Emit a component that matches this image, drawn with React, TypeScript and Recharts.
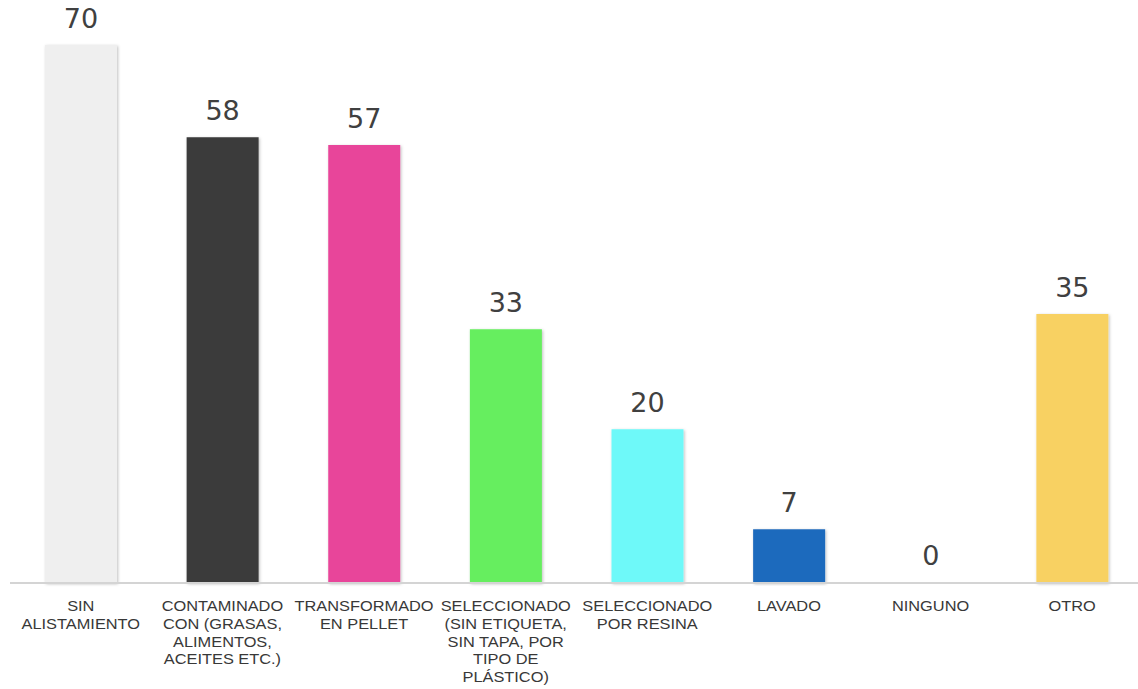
import React from "react";
import { BarChart, Bar, XAxis, YAxis, Cell, LabelList } from "recharts";

const categories = [
  "SIN ALISTAMIENTO",
  "CONTAMINADO CON (GRASAS, ALIMENTOS, ACEITES ETC.)",
  "TRANSFORMADO EN PELLET",
  "SELECCIONADO (SIN ETIQUETA, SIN TAPA, POR TIPO DE PLÁSTICO)",
  "SELECCIONADO POR RESINA",
  "LAVADO",
  "NINGUNO",
  "OTRO",
];

const tickLines: string[][] = [
  ["SIN", "ALISTAMIENTO"],
  ["CONTAMINADO", "CON (GRASAS,", "ALIMENTOS,", "ACEITES ETC.)"],
  ["TRANSFORMADO", "EN PELLET"],
  ["SELECCIONADO", "(SIN ETIQUETA,", "SIN TAPA, POR", "TIPO DE", "PLÁSTICO)"],
  ["SELECCIONADO", "POR RESINA"],
  ["LAVADO"],
  ["NINGUNO"],
  ["OTRO"],
];

const values = [70, 58, 57, 33, 20, 7, 0, 35];

const colors = [
  "#efefef",
  "#3a3a3a",
  "#e8449a",
  "#66ee5e",
  "#6ef9f9",
  "#1f6bbd",
  "#f3f3f3",
  "#f8d162",
];

const data = categories.map((c, i) => ({ name: c, value: values[i], idx: i }));

const CustomTick = (props: any) => {
  const { x, y, index } = props;
  const lines = tickLines[index] || [];
  return (
    <text
      x={x}
      y={y}
      textAnchor="middle"
      fill="#383838"
      fontFamily="'Liberation Sans', Arial, sans-serif"
      fontSize={14}
      transform={`translate(${x} 0) scale(1.17 1) translate(${-x} 0)`}
    >
      {lines.map((l, i) => (
        <tspan key={i} x={x} dy={i === 0 ? 28 : 17.8}>
          {l}
        </tspan>
      ))}
    </text>
  );
};

export default function App() {
  return (
    <div
      style={{
        position: "absolute",
        left: 0,
        top: 0,
        width: 1138,
        height: 689,
        overflow: "hidden",
        background: "#ffffff",
      }}
    >
      <BarChart
        width={1146}
        height={689}
        data={data}
        margin={{ top: 45, right: 3, bottom: 6, left: 10 }}
        barSize={72}
      >
        <defs>
          <filter id="barShadow" x="-20%" y="-5%" width="140%" height="110%">
            <feDropShadow dx="1" dy="1" stdDeviation="1.5" floodColor="#000" floodOpacity="0.25" />
          </filter>
        </defs>
        <XAxis
          dataKey="name"
          interval={0}
          tick={<CustomTick />}
          tickLine={false}
          tickSize={0}
          tickMargin={0}
          axisLine={{ stroke: "#d4d4d4", strokeWidth: 2 }}
          height={100}
        />
        <YAxis hide domain={[0, 70]} />
        <Bar dataKey="value" isAnimationActive={false} minPointSize={1}>
          {data.map((d, i) => (
            <Cell
              key={i}
              fill={colors[i]}
              filter={d.value > 0 ? "url(#barShadow)" : undefined}
            />
          ))}
          <LabelList
            dataKey="value"
            position="top"
            offset={17}
            fill="#404040"
            fontSize={27}
            fontFamily="'DejaVu Sans', sans-serif"
          />
        </Bar>
      </BarChart>
    </div>
  );
}
